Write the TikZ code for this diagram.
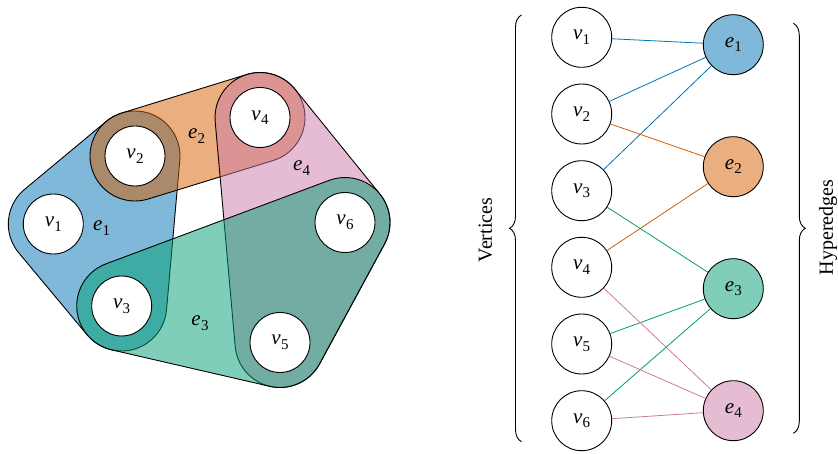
\documentclass[tikz,border=0pt]{standalone}
\usepackage{fontspec}
\setmainfont{Liberation Serif}
\usetikzlibrary{calc,decorations.pathreplacing}
\definecolor{ca}{RGB}{0,114,178}
\definecolor{cb}{RGB}{213,94,0}
\definecolor{cc}{RGB}{0,158,115}
\definecolor{cd}{RGB}{204,121,167}
\newcommand\lab[2]{\textit{#1}\kern0.01em\raisebox{-0.22em}{\fontsize{15}{18}\selectfont #2}}
\newcommand\HR{45pt}
\newcommand\hullthree[3]{%
  let \p1=(#1), \p2=(#2), \p3=(#3),
      \n1={scalar(atan2(\y2-\y1,\x2-\x1)-90)},
      \n2={scalar(atan2(\y3-\y2,\x3-\x2)-90)},
      \n3={scalar(atan2(\y1-\y3,\x1-\x3)-90)},
      \n4={mod(\n2-\n1+720,360)},
      \n5={mod(\n3-\n2+720,360)},
      \n6={mod(\n1-\n3+720,360)}
  in ($(\p1)+(\n1:\HR)$) -- ($(\p2)+(\n1:\HR)$)
     arc[start angle=\n1, delta angle=\n4, radius=\HR]
     -- ($(\p3)+(\n2:\HR)$)
     arc[start angle=\n2, delta angle=\n5, radius=\HR]
     -- ($(\p1)+(\n3:\HR)$)
     arc[start angle=\n3, delta angle=\n6, radius=\HR] -- cycle}
\newcommand\hulltwo[2]{%
  let \p1=(#1), \p2=(#2),
      \n1={scalar(atan2(\y2-\y1,\x2-\x1)-90)},
      \n2={\n1+180}
  in ($(\p1)+(\n1:\HR)$) -- ($(\p2)+(\n1:\HR)$)
     arc[start angle=\n1, delta angle=180, radius=\HR]
     -- ($(\p1)+(\n2:\HR)$)
     arc[start angle=\n2, delta angle=180, radius=\HR] -- cycle}
\begin{document}
\begin{tikzpicture}[x=1pt,y=1pt,
  txt/.style={font=\fontsize{21}{25}\selectfont, inner sep=0pt},
  vtx/.style={circle, draw=black, fill=white, line width=0.9pt, minimum size=60pt, inner sep=0pt, font=\fontsize{21}{25}\selectfont},
  hnode/.style={vtx, fill=#1!50},
  hull/.style={draw=black, line width=0.9pt, fill=#1, fill opacity=0.5},
  link/.style={draw=#1, line width=0.8pt},
  bracestyle/.style={decorate, decoration={brace, amplitude=12pt}, line width=0.9pt}]
\useasboundingbox (0,0) rectangle (838,453);
% left: hypergraph
\coordinate (c1) at (53.3,229);
\coordinate (c2) at (135,297);
\coordinate (c3) at (121.7,147);
\coordinate (c4) at (260,335.5);
\coordinate (c5) at (280,110.5);
\coordinate (c6) at (345,230.5);
\filldraw[hull=ca] \hullthree{c1}{c3}{c2};
\filldraw[hull=cb] \hulltwo{c2}{c4};
\filldraw[hull=cd] \hullthree{c4}{c5}{c6};
\filldraw[hull=cc] \hullthree{c3}{c5}{c6};
\node[vtx] (L1) at (c1) {\lab{v}{1}};
\node[vtx] (L2) at (c2) {\lab{v}{2}};
\node[vtx] (L3) at (c3) {\lab{v}{3}};
\node[vtx] (L4) at (c4) {\lab{v}{4}};
\node[vtx] (L5) at (c5) {\lab{v}{5}};
\node[vtx] (L6) at (c6) {\lab{v}{6}};
\node[txt] (le1) at (101.7,224.7) {\lab{e}{1}};
\node[txt] (le2) at (196.7,317) {\lab{e}{2}};
\node[txt] (le3) at (200,129.7) {\lab{e}{3}};
\node[txt] (le4) at (301.7,284.7) {\lab{e}{4}};
% right: bipartite incidence graph
\node[vtx] (r1) at (581.7,415.7) {\lab{v}{1}};
\node[vtx] (r2) at (581.7,339) {\lab{v}{2}};
\node[vtx] (r3) at (581.7,262.3) {\lab{v}{3}};
\node[vtx] (r4) at (581.7,185.7) {\lab{v}{4}};
\node[vtx] (r5) at (581.7,109) {\lab{v}{5}};
\node[vtx] (r6) at (581.7,32.3) {\lab{v}{6}};
\node[hnode=ca] (f1) at (733.3,408.3) {\lab{e}{1}};
\node[hnode=cb] (f2) at (733.3,286.3) {\lab{e}{2}};
\node[hnode=cc] (f3) at (733.3,164.3) {\lab{e}{3}};
\node[hnode=cd] (f4) at (733.3,42.3) {\lab{e}{4}};
\draw[link=ca] (r1) -- (f1);
\draw[link=ca] (r2) -- (f1);
\draw[link=ca] (r3) -- (f1);
\draw[link=cb] (r2) -- (f2);
\draw[link=cb] (r4) -- (f2);
\draw[link=cc] (r3) -- (f3);
\draw[link=cc] (r5) -- (f3);
\draw[link=cc] (r6) -- (f3);
\draw[link=cd] (r4) -- (f4);
\draw[link=cd] (r5) -- (f4);
\draw[link=cd] (r6) -- (f4);
% braces and captions
\coordinate (lb1) at (521.5,11.3);
\coordinate (lb2) at (521.5,438);
\coordinate (rb1) at (793.3,429.7);
\coordinate (rb2) at (793.3,19.7);
\draw[bracestyle] (lb1) -- (lb2);
\draw[bracestyle] (rb1) -- (rb2);
\node[txt, rotate=90, font=\fontsize{20}{24}\selectfont] (vt) at (485.5,223) {Vertices};
\node[txt, rotate=90, font=\fontsize{20}{24}\selectfont] (ht) at (828,225.5) {Hyperedges};
\end{tikzpicture}
\end{document}
